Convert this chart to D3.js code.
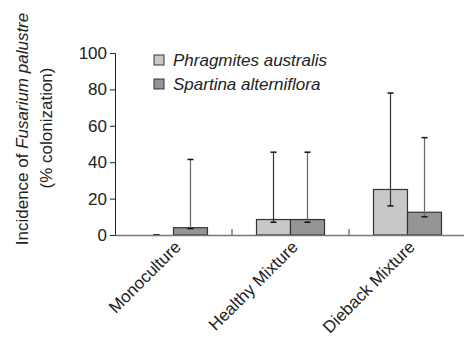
<!DOCTYPE html>
<html>
<head>
<meta charset="utf-8">
<script src="https://cdn.jsdelivr.net/npm/d3@7"></script>
<style>
  body { margin: 0; background: #fff; }
  text { font-family: "Liberation Sans", Arial, sans-serif; fill: #222; }
</style>
</head>
<body>
<div class="svgContainer"></div>
<script>
const categories = ['Monoculture', 'Healthy Mixture', 'Dieback Mixture'];
const seriesNames = ['Phragmites australis', 'Spartina alterniflora'];
const phragmites = [0, 8.5, 25];
const spartina = [4, 8.5, 12.5];
const phragmitesLow = [0, 7, 16];
const phragmitesHigh = [0, 45.5, 78];
const spartinaLow = [3.5, 7, 10];
const spartinaHigh = [41.5, 45.5, 53.5];
const yTicks = [0, 20, 40, 60, 80, 100];

const width = 464;
const height = 341;
const colors = ['#c8c8c8', '#959595'];
const fontSize = 17;

const svg = d3.select('.svgContainer').append('svg')
  .attr('width', width)
  .attr('height', height);

// scales
const scaleX = d3.scaleBand()
  .domain(categories)
  .range([115, 466]);

const scaleY = d3.scaleLinear()
  .domain([0, 100])
  .range([235, 53]);

const scaleSeries = d3.scaleBand()
  .domain(seriesNames)
  .range([0, 68]);

// y axis
const yAxis = d3.axisLeft(scaleY).tickValues(yTicks).tickSize(5).tickPadding(3);
const gy = svg.append('g')
  .attr('transform', 'translate(115,0)')
  .call(yAxis);
gy.select('.domain').attr('stroke', '#222');
gy.selectAll('.tick line').attr('stroke', '#222');
gy.selectAll('.tick text').attr('font-size', fontSize).attr('fill', '#222')
  .attr('font-family', '"Liberation Sans", Arial, sans-serif');

// bars
const data = [];
categories.forEach((c, i) => {
  data.push({cat: c, s: seriesNames[0], v: phragmites[i], lo: phragmitesLow[i], hi: phragmitesHigh[i], k: 0});
  data.push({cat: c, s: seriesNames[1], v: spartina[i], lo: spartinaLow[i], hi: spartinaHigh[i], k: 1});
});

const offset = (scaleX.bandwidth() - scaleSeries.range()[1]) / 2;

const g = svg.append('g');
g.selectAll('rect.bar')
  .data(data.filter(d => d.v > 0))
  .enter()
  .append('rect')
  .attr('class', 'bar')
  .attr('x', d => scaleX(d.cat) + offset + scaleSeries(d.s))
  .attr('y', d => scaleY(d.v))
  .attr('width', scaleSeries.bandwidth())
  .attr('height', d => scaleY(0) - scaleY(d.v))
  .attr('fill', d => colors[d.k])
  .attr('stroke', '#333')
  .attr('stroke-width', 1.2);

// x axis
const xAxis = d3.axisBottom(scaleX).tickSize(0).tickFormat('');
const gx = svg.append('g')
  .attr('transform', 'translate(0,' + scaleY(0) + ')')
  .call(xAxis);
gx.select('.domain').attr('stroke', '#777').attr('stroke-width', 1.3);

// category dividers
g.selectAll('line.div')
  .data(categories.slice(1))
  .enter()
  .append('line')
  .attr('x1', d => scaleX(d))
  .attr('x2', d => scaleX(d))
  .attr('y1', scaleY(0))
  .attr('y2', scaleY(0) - 6)
  .attr('stroke', '#333')
  .attr('stroke-width', 1);

// error bars
const cx = d => scaleX(d.cat) + offset + scaleSeries(d.s) + scaleSeries.bandwidth() / 2;
const eb = g.selectAll('g.err')
  .data(data)
  .enter()
  .append('g');
eb.append('line')
  .attr('x1', cx).attr('x2', cx)
  .attr('y1', d => scaleY(d.lo))
  .attr('y2', d => scaleY(d.hi))
  .attr('stroke', d => d.k === 1 ? '#666' : '#333')
  .attr('stroke-width', 1.2);
eb.append('line')
  .attr('x1', d => cx(d) - 3).attr('x2', d => cx(d) + 3)
  .attr('y1', d => scaleY(d.hi)).attr('y2', d => scaleY(d.hi))
  .attr('stroke', '#111').attr('stroke-width', 1.5);
eb.append('line')
  .attr('x1', d => cx(d) - 3).attr('x2', d => cx(d) + 3)
  .attr('y1', d => scaleY(d.lo)).attr('y2', d => scaleY(d.lo))
  .attr('stroke', '#111').attr('stroke-width', 1.5);

// x labels
svg.selectAll('text.xl')
  .data(categories)
  .enter()
  .append('text')
  .attr('class', 'xl')
  .attr('transform', d => 'translate(' + (scaleX(d) + scaleX.bandwidth() / 2 + 8.5) + ',' + (scaleY(0) + 13) + ') rotate(-45)')
  .attr('text-anchor', 'end')
  .attr('font-size', fontSize)
  .text(d => d);

// y title
const yt = svg.append('text')
  .attr('transform', 'translate(28,129) rotate(-90)')
  .attr('text-anchor', 'middle')
  .attr('font-size', fontSize);
yt.append('tspan').text('Incidence of ');
yt.append('tspan').attr('font-style', 'italic').text('Fusarium palustre');
svg.append('text')
  .attr('transform', 'translate(52,128) rotate(-90)')
  .attr('text-anchor', 'middle')
  .attr('font-size', fontSize)
  .text('(% colonization)');

// legend
const leg = svg.selectAll('g.leg')
  .data(seriesNames)
  .enter()
  .append('g')
  .attr('transform', (d, i) => 'translate(154,' + (55 + i * 24) + ')');
leg.append('rect')
  .attr('width', 10).attr('height', 10)
  .attr('fill', (d, i) => colors[i])
  .attr('stroke', '#333').attr('stroke-width', 1);
leg.append('text')
  .attr('x', 19).attr('y', 5)
  .attr('dy', '0.35em')
  .attr('font-size', fontSize)
  .attr('font-style', 'italic')
  .text(d => d);
</script>
</body>
</html>
